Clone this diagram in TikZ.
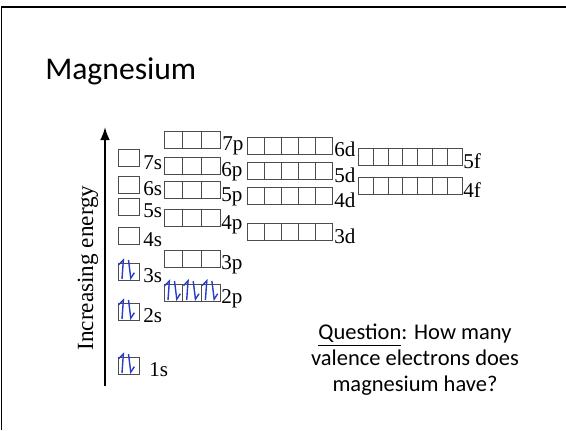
\documentclass[tikz,border=0pt]{standalone}
\usepackage{fontspec}
\setmainfont{Liberation Serif}
\newfontfamily\slidefont{Carlito}
\usetikzlibrary{arrows.meta}
\definecolor{pen}{RGB}{40,60,200}

\begin{document}
\begin{tikzpicture}[>=Latex,x=0.025cm,y=-0.025cm,
    box/.style={black!70,line width=0.6pt},
    elec/.style={pen,line width=1pt,-{Straight Barb[left,length=3.5pt,width=6pt]}}]
  \useasboundingbox (0,0) rectangle (566,430);
  \def\H{17}
  % slide frame
  \draw[line width=1.2pt] (1.5,430) -- (1.5,7) -- (566,7);
  \node[anchor=base west,inner sep=0,font=\slidefont\fontsize{22.5}{26}\selectfont] (title) at (45,79.5) {Magnesium};

  % energy axis
  \coordinate (bot) at (105,386);
  \coordinate (top) at (105,127);
  \draw[->,line width=1.4pt] (bot) -- (top);
  \node[rotate=90,font=\fontsize{16.5}{18}\selectfont] (axis) at (88,268) {Increasing energy};

  % \orb{x}{y top}{boxes}{box width}{label}{gap}
  \def\orb#1#2#3#4#5#6{
    \foreach \i in {1,...,#3}
      \draw[box] ({#1+(\i-1)*#4},#2) rectangle ++(#4,\H);
    \node[anchor=base west,inner sep=0,font=\fontsize{15}{17}\selectfont] (o#5) at ({#1+#3*#4+#6},#2+\H+2.5) {#5};
  }
  % \pair{x}{y top}: up and down electron
  \def\pair#1#2{
    \draw[elec] (#1+4,#2+16) -- (#1+5.5,#2-5);
    \draw[elec] (#1+10.5,#2-3) -- (#1+13,#2+17);
  }

  \orb{118}{149.5}{1}{21}{7s}{4}
  \orb{118}{176}{1}{21}{6s}{4}
  \orb{118}{198}{1}{21}{5s}{4}
  \orb{118}{227}{1}{21}{4s}{4}
  \orb{118}{263}{1}{21}{3s}{4}
  \orb{118}{303}{1}{21}{2s}{4}
  \orb{118}{357}{1}{21}{1s}{10}

  \orb{164}{131}{3}{18.7}{7p}{2}
  \orb{164}{157}{3}{18.7}{6p}{1}
  \orb{164}{181.5}{3}{18.7}{5p}{1}
  \orb{164}{209.5}{3}{18.7}{4p}{1}
  \orb{164}{250}{3}{18.7}{3p}{1}
  \orb{164}{284}{3}{18.7}{2p}{1}

  \orb{247.5}{137}{5}{17}{6d}{1.5}
  \orb{247.5}{162.5}{5}{17}{5d}{1.5}
  \orb{247.5}{187.5}{5}{17}{4d}{1.5}
  \orb{247.5}{223.5}{5}{17}{3d}{1.5}

  \orb{358.5}{148.5}{7}{14.8}{5f}{1}
  \orb{358.5}{177.5}{7}{14.8}{4f}{1}

  % magnesium electrons
  \pair{118}{357}
  \pair{118}{303}
  \pair{118}{263}
  \pair{164}{284}
  \pair{182.7}{284}
  \pair{201.4}{284}

  \node[anchor=north,align=center,inner sep=0,font=\slidefont\fontsize{16}{18.5}\selectfont] (question) at (415,324)
    {\underline{Question}: How many\\valence electrons does\\magnesium have?};
\end{tikzpicture}
\end{document}
